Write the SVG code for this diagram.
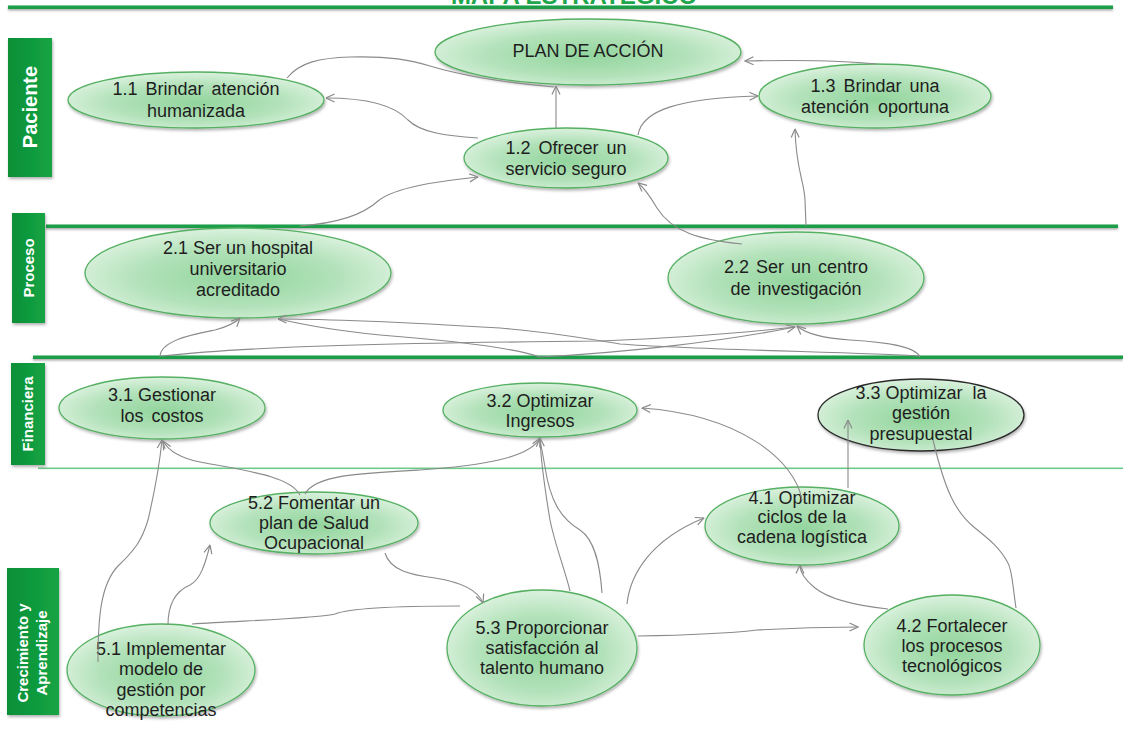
<svg xmlns="http://www.w3.org/2000/svg" width="1123" height="741" viewBox="0 0 1123 741">
  <defs>
    <radialGradient id="nodeFill" cx="50%" cy="55%" r="60%">
      <stop offset="0" stop-color="#92d59d"/>
      <stop offset="0.55" stop-color="#b3e2ba"/>
      <stop offset="1" stop-color="#e4f5e6"/>
    </radialGradient>
    <linearGradient id="barFill" x1="0" y1="0" x2="1" y2="0">
      <stop offset="0" stop-color="#0c8f37"/>
      <stop offset="1" stop-color="#14a444"/>
    </linearGradient>
    <filter id="shadow" x="-10%" y="-10%" width="130%" height="140%">
      <feDropShadow dx="1" dy="2" stdDeviation="1.5" flood-color="#000" flood-opacity="0.3"/>
    </filter>
    <filter id="ruleShadow" x="-1%" y="-100%" width="102%" height="400%">
      <feDropShadow dx="0" dy="1.5" stdDeviation="1" flood-color="#000" flood-opacity="0.35"/>
    </filter>
    <marker id="arrow" viewBox="0 0 10 10" refX="9.5" refY="5" markerWidth="10" markerHeight="10" markerUnits="userSpaceOnUse" orient="auto">
      <path d="M1 1 L9.5 5 L1 9" fill="none" stroke="#8a8a8a" stroke-width="1.2"/>
    </marker>
  </defs>
  <style>
    .node ellipse { fill: url(#nodeFill); stroke: #55b062; stroke-width: 1.3; filter: url(#shadow); }
    .node ellipse.dark { stroke: #2a2a2a; }
    .node text { font-family: "Liberation Sans", Arial, sans-serif; font-size: 18px; fill: #1e1e1e; text-anchor: middle; }
    .lane rect { fill: url(#barFill); filter: url(#shadow); }
    .lane text { font-family: "Liberation Sans", Arial, sans-serif; font-weight: bold; fill: #ffffff; text-anchor: middle; }
    .rule { fill: #1a9e48; filter: url(#ruleShadow); }
    .rule.thin { fill: #6ccb89; filter: none; }
    #connectors path { fill: none; stroke: #8a8a8a; stroke-width: 1.1; }
    #connectors path.arr { marker-end: url(#arrow); }
  </style>

  <rect width="1123" height="741" fill="#ffffff"/>

  <!-- title, running off the top edge -->
  <text x="574" y="4" font-family="'Liberation Sans', Arial, sans-serif" font-weight="bold" font-size="24" fill="#1ea64c" text-anchor="middle">MAPA ESTRATÉGICO</text>

  <!-- perspective separators -->
  <g id="rules">
    <rect class="rule" x="8" y="5.5" width="1105" height="3.5"/>
    <rect class="rule" x="46" y="224.5" width="1072" height="3.5"/>
    <rect class="rule" x="33" y="355.5" width="1090" height="3.5"/>
    <rect class="rule thin" x="38" y="467.5" width="1085" height="1.6"/>
  </g>

  <!-- perspective labels -->
  <g id="lane-paciente" class="lane">
    <rect x="8" y="38" width="44" height="139"/>
    <text font-size="20" transform="translate(37 107) rotate(-90)">Paciente</text>
  </g>
  <g id="lane-proceso" class="lane">
    <rect x="12" y="213" width="33" height="110"/>
    <text font-size="15" transform="translate(34 268) rotate(-90)">Proceso</text>
  </g>
  <g id="lane-financiera" class="lane">
    <rect x="11" y="363" width="34" height="102"/>
    <text font-size="15" transform="translate(33 414) rotate(-90)">Financiera</text>
  </g>
  <g id="lane-crecimiento" class="lane">
    <rect x="7" y="568" width="52" height="147"/>
    <text font-size="15" transform="translate(28 653) rotate(-90)">Crecimiento y</text>
    <text font-size="15" transform="translate(47 653) rotate(-90)">Aprendizaje</text>
  </g>

  <!-- objectives -->
  <g id="plan" class="node">
    <ellipse cx="588" cy="52" rx="153" ry="33"/>
    <text x="588" y="57" font-size="19">PLAN DE ACCIÓN</text>
  </g>
  <g id="obj-1-1" class="node">
    <ellipse cx="196" cy="100" rx="128" ry="28"/>
    <text x="196" y="95" word-spacing="3">1.1 Brindar atención</text>
    <text x="196" y="117">humanizada</text>
  </g>
  <g id="obj-1-2" class="node">
    <ellipse cx="566" cy="158" rx="102" ry="30"/>
    <text x="566" y="154" word-spacing="3">1.2 Ofrecer un</text>
    <text x="566" y="175">servicio seguro</text>
  </g>
  <g id="obj-1-3" class="node">
    <ellipse cx="875" cy="96" rx="116" ry="32"/>
    <text x="875" y="92" word-spacing="3">1.3 Brindar una</text>
    <text x="875" y="113" word-spacing="4">atención oportuna</text>
  </g>
  <g id="obj-2-1" class="node">
    <ellipse cx="238" cy="273" rx="153" ry="45"/>
    <text x="238" y="254">2.1 Ser un hospital</text>
    <text x="238" y="275">universitario</text>
    <text x="238" y="296">acreditado</text>
  </g>
  <g id="obj-2-2" class="node">
    <ellipse cx="796" cy="278" rx="128" ry="46"/>
    <text x="796" y="273" word-spacing="2">2.2 Ser un centro</text>
    <text x="796" y="295" word-spacing="2">de investigación</text>
  </g>
  <g id="obj-3-1" class="node">
    <ellipse cx="162" cy="408" rx="103" ry="31"/>
    <text x="162" y="401">3.1 Gestionar</text>
    <text x="162" y="422" word-spacing="3">los costos</text>
  </g>
  <g id="obj-3-2" class="node">
    <ellipse cx="540" cy="410" rx="97" ry="27"/>
    <text x="540" y="407">3.2 Optimizar</text>
    <text x="540" y="427">Ingresos</text>
  </g>
  <g id="obj-3-3" class="node">
    <ellipse class="dark" cx="921" cy="415" rx="103" ry="36"/>
    <text x="921" y="399" xml:space="preserve">3.3 Optimizar  la</text>
    <text x="921" y="419">gestión</text>
    <text x="921" y="440">presupuestal</text>
  </g>
  <g id="obj-4-1" class="node">
    <ellipse cx="802" cy="526" rx="97" ry="39"/>
    <text x="802" y="504">4.1 Optimizar</text>
    <text x="802" y="523">ciclos de la</text>
    <text x="802" y="543">cadena logística</text>
  </g>
  <g id="obj-4-2" class="node">
    <ellipse cx="952" cy="645" rx="88" ry="50"/>
    <text x="952" y="632">4.2 Fortalecer</text>
    <text x="952" y="652">los procesos</text>
    <text x="952" y="672">tecnológicos</text>
  </g>
  <g id="obj-5-1" class="node">
    <ellipse cx="161" cy="670" rx="94" ry="46"/>
    <text x="161" y="655">5.1 Implementar</text>
    <text x="161" y="675">modelo de</text>
    <text x="161" y="696">gestión por</text>
    <text x="161" y="716">competencias</text>
  </g>
  <g id="obj-5-2" class="node">
    <ellipse cx="314" cy="523" rx="104" ry="31"/>
    <text x="314" y="509">5.2 Fomentar un</text>
    <text x="314" y="529">plan de Salud</text>
    <text x="314" y="549">Ocupacional</text>
  </g>
  <g id="obj-5-3" class="node">
    <ellipse cx="542" cy="648" rx="95" ry="58"/>
    <text x="542" y="634">5.3 Proporcionar</text>
    <text x="542" y="654">satisfacción al</text>
    <text x="542" y="674">talento humano</text>
  </g>

  <!-- cause-effect links -->
  <g id="connectors">
    <path d="M287 78 C300 62 320 58 350 57 C390 56 410 60 430 66 C470 78 520 84 554 87"/>
    <path class="arr" d="M556 128 L556 86"/>
    <path class="arr" d="M478 138 C445 136 420 132 408 120 C395 106 370 98 326 98"/>
    <path class="arr" d="M876 64 C840 60 790 60 745 61"/>
    <path class="arr" d="M638 135 C642 110 680 98 758 96"/>
    <path class="arr" d="M806 226 L805 200 C804 180 796 170 795 129"/>
    <path class="arr" d="M742 244 C700 240 672 232 657 208 C650 196 644 188 638 183"/>
    <path class="arr" d="M300 226 C340 223 365 213 378 201 C395 187 440 181 478 177"/>

    <path class="arr" d="M160 357 C160 340 195 334 215 330 C230 326 236 322 240 318"/>
    <path d="M162 356 C250 346 400 343 600 341 C700 337 760 331 795 327"/>
    <path class="arr" d="M920 357 C915 346 885 342 850 340 C820 338 805 333 797 326"/>
    <path class="arr" d="M920 356 C850 352 700 350 620 344 C580 338 560 333 500 328 C400 322 330 319 278 319"/>
    <path d="M540 357 C520 350 470 342 380 335 C330 330 300 324 279 319"/>
    <path class="arr" d="M540 357 C620 353 720 342 795 327"/>

    <path class="arr" d="M98 662 C98 620 100 585 118 566 C135 550 142 540 148 520 C155 490 160 460 162 440"/>
    <path class="arr" d="M168 625 C168 600 178 590 190 585 C200 580 205 565 210 545"/>
    <path d="M192 624 C260 620 320 618 335 614 C350 608 400 606 460 606"/>
    <path class="arr" d="M300 495 C290 475 240 470 200 462 C180 458 168 450 163 441"/>
    <path class="arr" d="M305 494 C315 475 360 473 420 470 C480 466 530 458 540 438"/>
    <path class="arr" d="M385 553 C390 570 410 575 435 578 C460 582 478 590 483 603"/>
    <path class="arr" d="M570 591 C565 570 555 545 550 520 C545 490 541 465 540 438"/>
    <path d="M602 593 C600 565 595 540 580 530 C560 518 550 500 545 467 C542 450 541 445 540 440"/>
    <path class="arr" d="M627 604 C630 575 650 540 704 518"/>
    <path class="arr" d="M638 636 C700 635 740 632 757 630 C790 628 830 627 858 627"/>
    <path class="arr" d="M888 609 C860 606 830 600 815 588 C805 580 800 572 800 565"/>
    <path d="M1016 608 C1012 580 1012 570 1008 563 C1000 548 990 540 975 528 C955 512 945 490 933 440"/>
    <path class="arr" d="M848 488 L848 420"/>
    <path class="arr" d="M802 500 C795 460 740 415 642 408"/>
  </g>
</svg>
